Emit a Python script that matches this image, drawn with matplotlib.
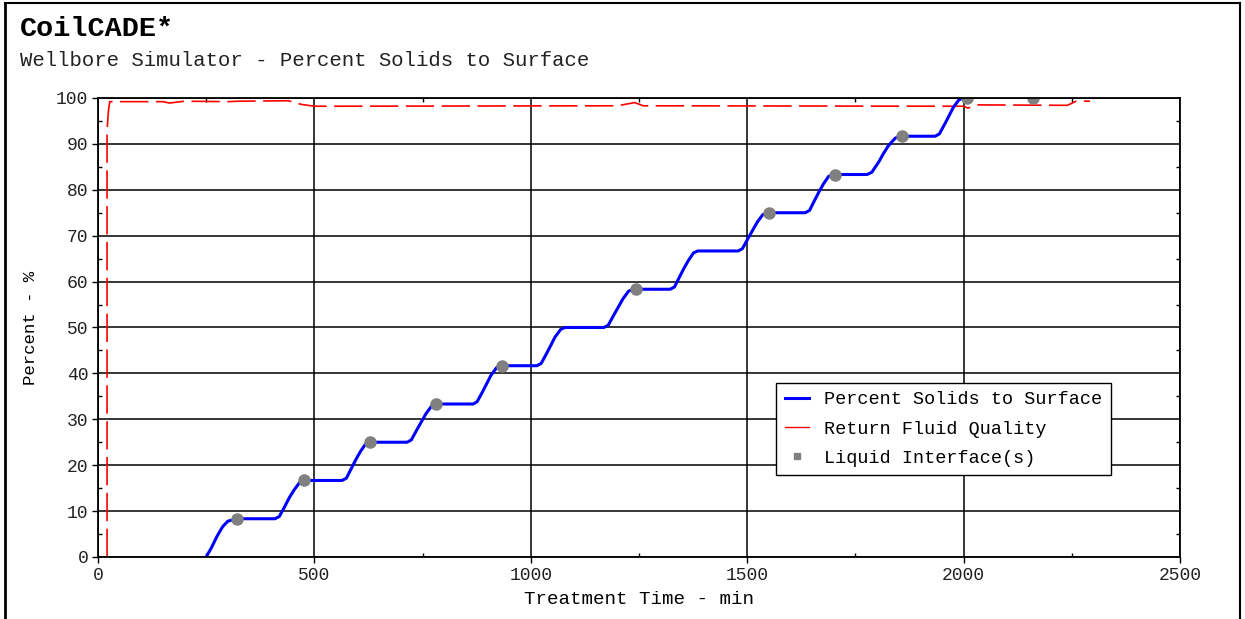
import matplotlib
matplotlib.use("Agg")
import matplotlib.pyplot as plt
from matplotlib.lines import Line2D
from matplotlib.ticker import MultipleLocator

plt.rcParams["font.family"] = ["Liberation Mono", "DejaVu Sans"]

# Percent Solids to Surface (blue)
solids_t = [250, 262, 275, 288, 300, 321,
            409, 419, 432, 442, 453, 466, 476,
            564, 574, 586, 596, 606, 618, 628,
            714, 724, 737, 748, 758, 771, 781,
            867, 876, 889, 899, 908, 921, 930,
            1014, 1024, 1037, 1047, 1056, 1069, 1079,
            1169, 1179, 1192, 1203, 1213, 1226, 1236,
            1322, 1332, 1344, 1354, 1364, 1376, 1386,
            1479, 1489, 1502, 1513, 1523, 1536, 1546,
            1634, 1644, 1656, 1666, 1676, 1688, 1698,
            1777, 1788, 1804, 1815, 1826, 1842, 1853,
            1934, 1944, 1957, 1967, 1976, 1989, 1999]
solids_pct = [0, 2.0, 4.5, 6.6, 7.8, 8.33,
              8.33, 8.83, 11.08, 12.92, 14.58, 16.25, 16.67,
              16.67, 17.17, 19.42, 21.25, 22.92, 24.58, 25.0,
              25.0, 25.5, 27.75, 29.58, 31.25, 32.92, 33.33,
              33.33, 33.83, 36.08, 37.92, 39.58, 41.25, 41.67,
              41.67, 42.17, 44.42, 46.25, 47.92, 49.58, 50.0,
              50.0, 50.5, 52.75, 54.58, 56.25, 57.92, 58.33,
              58.33, 58.83, 61.08, 62.92, 64.58, 66.25, 66.67,
              66.67, 67.17, 69.42, 71.25, 72.92, 74.58, 75.0,
              75.0, 75.5, 77.75, 79.58, 81.25, 82.92, 83.33,
              83.33, 83.83, 86.08, 87.92, 89.58, 91.25, 91.67,
              91.67, 92.17, 94.42, 96.25, 97.92, 99.58, 100.0]

# Return Fluid Quality (red, dashed)
quality_t = [21, 21, 24, 27, 150, 165, 200, 300, 325, 440, 470, 500,
             1200, 1240, 1260, 2000, 2010, 2030, 2240, 2260, 2292]
quality_pct = [0, 93, 97, 99.2, 99.2, 98.9, 99.3, 99.2, 99.3, 99.4, 98.6, 98.2,
               98.3, 99.0, 98.3, 98.2, 97.8, 98.5, 98.4, 99.3, 99.3]

# Liquid Interface(s) markers
interface_t = [321, 476, 628, 781, 933, 1243, 1550, 1703, 1858, 2008, 2160]
interface_pct = [8.33, 16.67, 25, 33.33, 41.67, 58.33, 75, 83.33, 91.67, 100, 100]

fig = plt.figure(figsize=(12.45, 6.19), dpi=100)
ax = fig.add_axes([0.0787, 0.1002, 0.8691, 0.7415])

ax.plot(quality_t, quality_pct, color="#ff0000", lw=1.2, dashes=(17, 4.5), zorder=3)
ax.plot(solids_t, solids_pct, color="#0000ff", lw=2.2, zorder=4,
        solid_joinstyle="round")
ax.plot(interface_t, interface_pct, ls="none", marker="o", ms=8,
        color="#808080", zorder=5)

ax.set_xlim(0, 2500)
ax.set_ylim(0, 100)
ax.xaxis.set_major_locator(MultipleLocator(500))
ax.xaxis.set_minor_locator(MultipleLocator(250))
ax.yaxis.set_major_locator(MultipleLocator(10))
ax.yaxis.set_minor_locator(MultipleLocator(5))
ax.grid(which="major", color="black", lw=1.1)
ax.set_axisbelow(True)
for s in ax.spines.values():
    s.set_linewidth(1.3)
    s.set_zorder(6)

ax.tick_params(which="major", direction="out", length=4, width=1,
               labelsize=13, colors="black", labelcolor="#222222", pad=3)
ax.tick_params(which="minor", direction="in", length=3, width=1,
               top=True, right=True)

ax.set_xlabel("Treatment Time - min", fontsize=13.8, labelpad=5)
ax.set_ylabel("Percent - %", fontsize=12.5, labelpad=13)

handles = [
    Line2D([], [], color="#0000ff", lw=2.2),
    Line2D([], [], color="#ff0000", lw=1.0),
    Line2D([], [], ls="none", marker="s", ms=5, color="#808080"),
]
labels = ["Percent Solids to Surface", "Return Fluid Quality", "Liquid Interface(s)"]
leg = ax.legend(handles, labels, loc="upper left", bbox_to_anchor=(0.627, 0.379),
                fontsize=13.3, frameon=True, fancybox=False, framealpha=1,
                edgecolor="black", handlelength=1.3, handletextpad=0.85,
                borderpad=0.45, labelspacing=0.66, borderaxespad=0)
leg.get_frame().set_linewidth(1.0)
leg.set_zorder(10)

fig.text(20 / 1245, 1 - 36 / 619, "CoilCADE*", fontsize=20.5, fontweight="bold",
         va="baseline")
fig.text(20 / 1245, 1 - 66 / 619, "Wellbore Simulator - Percent Solids to Surface",
         fontsize=14.9, va="baseline", color="#222222")

# outer frame
fig.add_artist(Line2D([5 / 1245, 5 / 1245], [0, 1 - 3 / 619],
                      transform=fig.transFigure, color="black", lw=2))
fig.add_artist(Line2D([5 / 1245, 1240 / 1245], [1 - 3 / 619, 1 - 3 / 619],
                      transform=fig.transFigure, color="black", lw=1.5))
fig.add_artist(Line2D([1240 / 1245, 1240 / 1245], [0, 1 - 3 / 619],
                      transform=fig.transFigure, color="black", lw=1.5))

fig.savefig("out.png", dpi=100)
